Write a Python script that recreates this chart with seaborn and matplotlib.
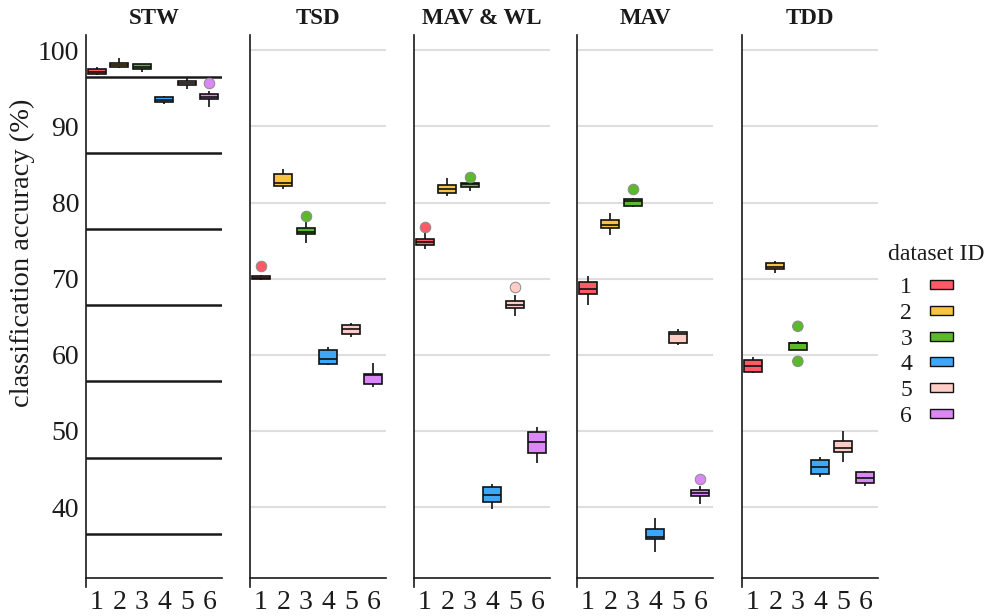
import matplotlib
matplotlib.use("Agg")
import matplotlib.pyplot as plt
from matplotlib.patches import Patch
import pandas as pd
import seaborn as sns

sns.set_theme(style="white")
plt.rcParams["font.family"] = ["Liberation Serif", "DejaVu Serif"]
plt.rcParams["text.color"] = "#1a1a1a"
plt.rcParams["xtick.color"] = "#1a1a1a"
plt.rcParams["ytick.color"] = "#1a1a1a"

features = ["STW", "TSD", "MAV & WL", "MAV", "TDD"]
dataset_ids = ["1", "2", "3", "4", "5", "6"]
colors = ["#FF5A66", "#F8C440", "#5CB92E", "#3DA9F6", "#FFCDC5", "#DA88F6"]

# Box statistics, one row per feature set, one column per dataset ID
whisker_low = [
    [96.80, 97.70, 97.15, 93.00, 94.90, 92.60],
    [69.80, 81.80, 74.70, 58.60, 62.30, 55.73],
    [73.90, 80.90, 81.54, 39.72, 65.13, 45.84],
    [66.58, 75.76, 79.44, 34.08, 61.33, 40.46],
    [57.66, 70.80, 60.63, 43.92, 45.97, 42.74],
]
q1 = [
    [96.94, 97.81, 97.60, 93.18, 95.37, 93.57],
    [69.90, 82.19, 75.85, 58.83, 62.77, 56.13],
    [74.40, 81.28, 82.06, 40.68, 66.20, 47.16],
    [67.98, 76.68, 79.60, 35.83, 61.60, 41.47],
    [57.80, 71.22, 60.63, 44.40, 47.20, 43.14],
]
median = [
    [97.20, 98.07, 97.86, 93.44, 95.70, 93.92],
    [70.10, 82.60, 76.10, 59.40, 63.35, 57.35],
    [74.80, 81.76, 82.37, 41.56, 66.58, 48.50],
    [68.59, 76.99, 80.23, 36.09, 62.69, 41.82],
    [58.57, 71.56, 61.50, 45.28, 47.72, 43.87],
]
q3 = [
    [97.47, 98.33, 98.16, 93.80, 96.00, 94.27],
    [70.34, 83.77, 76.60, 60.60, 63.95, 57.44],
    [75.16, 82.24, 82.60, 42.65, 67.00, 49.83],
    [69.51, 77.70, 80.50, 37.14, 63.04, 42.26],
    [59.27, 72.00, 61.59, 46.15, 48.69, 44.58],
]
whisker_high = [
    [97.77, 98.95, 98.25, 93.96, 96.40, 94.60],
    [70.47, 84.38, 77.50, 61.00, 64.13, 58.92],
    [76.10, 83.16, 82.65, 43.00, 67.85, 50.50],
    [70.34, 78.60, 80.60, 38.54, 63.39, 42.78],
    [59.71, 72.27, 61.77, 46.60, 50.00, 44.75],
]

# Points beyond the whiskers
outlier_feature = ["STW", "TSD", "TSD", "MAV & WL", "MAV & WL", "MAV & WL",
                   "MAV", "MAV", "TDD", "TDD"]
outlier_dataset = ["6", "1", "3", "1", "3", "5", "3", "6", "3", "3"]
outlier_value = [95.70, 71.70, 78.25, 76.77, 83.30, 68.86, 81.76, 43.66, 63.74, 59.14]

# Horizontal reference rules drawn across the STW panel
stw_rules = [96.5, 86.5, 76.5, 66.5, 56.5, 46.5, 36.5]

y_ticks = [40, 50, 60, 70, 80, 90, 100]

rows = []
for fi, feat in enumerate(features):
    for di, ds in enumerate(dataset_ids):
        for stat in (whisker_low, q1, median, q3, whisker_high):
            rows.append({"feature": feat, "dataset": ds, "value": stat[fi][di]})
box_df = pd.DataFrame(rows)
out_df = pd.DataFrame({"feature": outlier_feature, "dataset": outlier_dataset,
                       "value": outlier_value})

W, H = 988, 616
fig = plt.figure(figsize=(W / 100, H / 100), dpi=100)

panel_left = [86, 250, 414, 577, 742]
panel_w = 136
top_px, bottom_px = 35, 587

for i, feat in enumerate(features):
    ax = fig.add_axes([panel_left[i] / W, 1 - bottom_px / H,
                       panel_w / W, (bottom_px - top_px) / H])
    sub = box_df[box_df["feature"] == feat]
    sns.boxplot(data=sub, x="dataset", y="value", hue="dataset",
                order=dataset_ids, hue_order=dataset_ids, palette=colors,
                saturation=1, whis=(0, 100), showfliers=False, showcaps=False,
                width=0.8, dodge=False, linecolor="#111111", linewidth=1.2,
                legend=False, ax=ax, zorder=3)
    pts = out_df[out_df["feature"] == feat]
    sns.stripplot(data=pts, x="dataset", y="value", hue="dataset",
                  order=dataset_ids, hue_order=dataset_ids, palette=colors,
                  jitter=False, size=7.6, edgecolor="#8a8a8a", linewidth=0.7,
                  legend=False, ax=ax, zorder=4)

    ax.set_xlim(-0.48, 5.56)
    ax.set_ylim(29.5, 102)
    ax.set_yticks(y_ticks)
    ax.set_xlabel("")
    ax.set_ylabel("")
    for s in ("top", "right"):
        ax.spines[s].set_visible(False)
    for s in ("left", "bottom"):
        ax.spines[s].set_color("#1a1a1a")
        ax.spines[s].set_linewidth(1.2)
    ax.spines["bottom"].set_position(("data", 30.7))
    ax.tick_params(axis="both", direction="in", length=5, width=1.1,
                   labelsize=20)
    ax.tick_params(axis="x", pad=9)
    ax.tick_params(axis="y", pad=5)

    if i == 0:
        for yv in stw_rules:
            ax.axhline(yv, color="#1a1a1a", lw=1.8, zorder=1)
    else:
        ax.yaxis.grid(True, color="#dedede", lw=1.5, zorder=0)
        ax.set_axisbelow(True)
        ax.tick_params(axis="y", labelleft=False)

    ax.set_title(feat, fontsize=16.5, fontweight="bold", pad=8)

fig.text(22 / W, 1 - 253 / H, "classification accuracy (%)", rotation=90,
         fontsize=20.5, ha="center", va="center")

handles = [Patch(facecolor=c, edgecolor="#111111", linewidth=1.0) for c in colors]
fig.legend(handles, dataset_ids, loc="center left",
           bbox_to_anchor=(879 / W, 1 - 352 / H), frameon=False,
           markerfirst=False, fontsize=17,
           handlelength=1.0, handleheight=0.2, handletextpad=0.75,
           labelspacing=0.2)
fig.text(936 / W, 1 - 255 / H, "dataset ID", fontsize=17,
         ha="center", va="center")

fig.savefig("out.png", dpi=100)
